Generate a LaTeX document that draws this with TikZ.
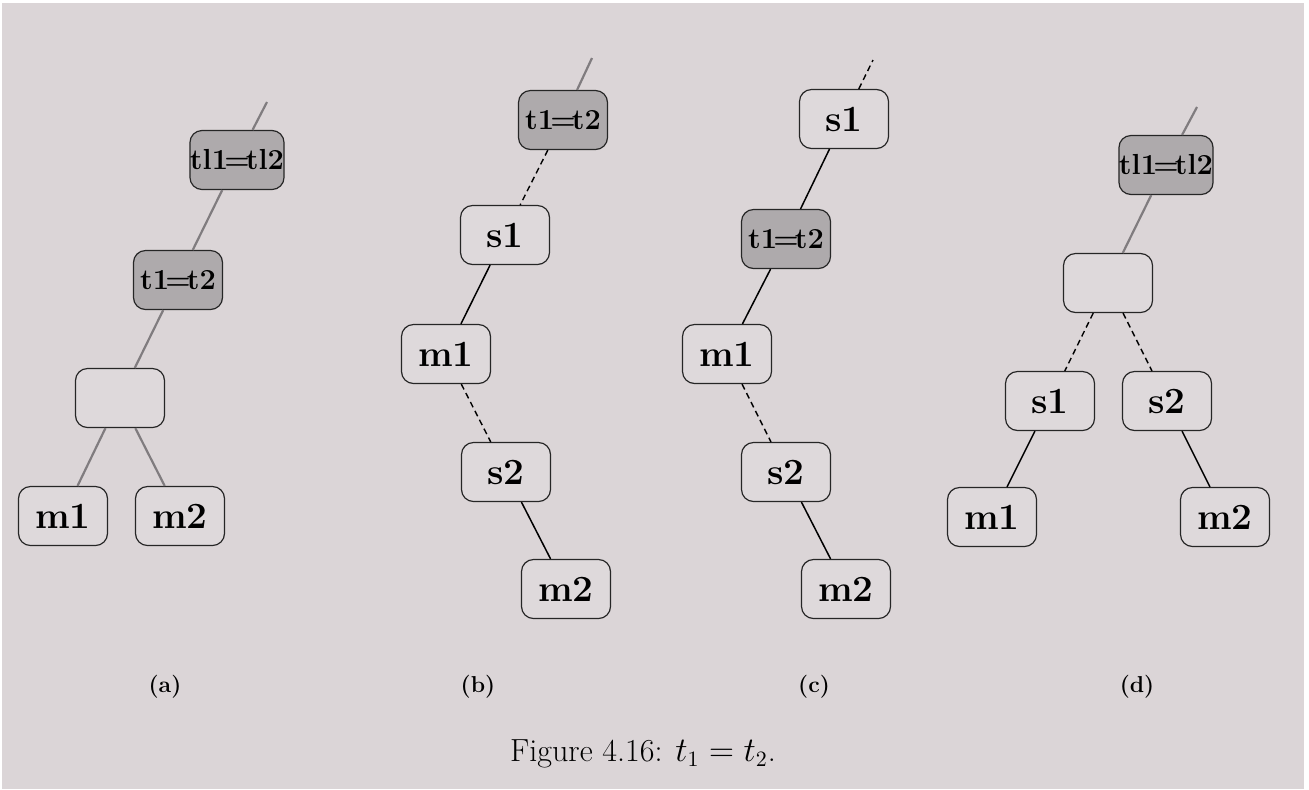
\documentclass[tikz,border=0pt]{standalone}
\usepackage{fontspec}
\definecolor{paper}{RGB}{219,213,215}
\definecolor{boxfill}{RGB}{222,217,219}
\definecolor{greyfill}{RGB}{174,170,172}
\definecolor{greyline}{RGB}{128,124,127}
\begin{document}
\begin{tikzpicture}[x=0.5pt,y=-0.5pt,
  box/.style={draw=black!85, line width=0.6pt, rounded corners=6pt,
    minimum width=44.5pt, minimum height=29.5pt, inner sep=0pt,
    fill=boxfill, font=\fontsize{18.5}{20}\bfseries\selectfont},
  greybox/.style={box, fill=greyfill, font=\fontsize{14.5}{16}\bfseries\selectfont},
  edge/.style={line width=0.75pt, black},
  dashedge/.style={line width=0.7pt, black, dash pattern=on 3pt off 2pt},
  greyedge/.style={line width=1.1pt, greyline},
  sublabel/.style={font=\fontsize{11.5}{13}\bfseries\selectfont},
]
\fill[white] (0,0) rectangle (1309,789);
\fill[paper] (2,3) rectangle (1304,789);
\useasboundingbox (0,0) rectangle (1309,789);
\newcommand{\eqs}{\hspace{-0.13em}=\hspace{-0.13em}}

% ---------- (a)
\node[greybox] (a-tl) at (237,160) {tl1\eqs tl2};
\node[greybox] (a-t) at (178,280) {t1\eqs t2};
\node[box] (a-e) at (120,398) {};
\node[box] (a-m1) at (63,516) {m1};
\node[box] (a-m2) at (180,516) {m2};
\coordinate (a-top) at (267,102);
\draw[greyedge] (a-tl) -- (a-top);
\draw[greyedge] (a-tl) -- (a-t);
\draw[greyedge] (a-t) -- (a-e);
\draw[greyedge] (a-e) -- (a-m1);
\draw[greyedge] (a-e) -- (a-m2);

% ---------- (b)
\node[greybox] (b-t) at (563,120) {t1\eqs t2};
\node[box] (b-s1) at (505,235) {s1};
\node[box] (b-m1) at (446,354) {m1};
\node[box] (b-s2) at (506,472) {s2};
\node[box] (b-m2) at (566,589) {m2};
\coordinate (b-top) at (592,58);
\draw[greyedge] (b-t) -- (b-top);
\draw[dashedge] (b-t) -- (b-s1);
\draw[edge] (b-s1) -- (b-m1);
\draw[dashedge] (b-m1) -- (b-s2);
\draw[edge] (b-s2) -- (b-m2);

% ---------- (c)
\node[box] (c-s1) at (844,119) {s1};
\node[greybox] (c-t) at (786,239) {t1\eqs t2};
\node[box] (c-m1) at (727,354) {m1};
\node[box] (c-s2) at (786,472) {s2};
\node[box] (c-m2) at (846,589) {m2};
\coordinate (c-top) at (873,60);
\draw[dashedge] (c-s1) -- (c-top);
\draw[edge] (c-s1) -- (c-t);
\draw[edge] (c-t) -- (c-m1);
\draw[dashedge] (c-m1) -- (c-s2);
\draw[edge] (c-s2) -- (c-m2);

% ---------- (d)
\node[greybox] (d-tl) at (1166,165) {tl1\eqs tl2};
\node[box] (d-e) at (1108,283) {};
\node[box] (d-s1) at (1050,401) {s1};
\node[box] (d-s2) at (1167,401) {s2};
\node[box] (d-m1) at (992,517) {m1};
\node[box] (d-m2) at (1225,517) {m2};
\coordinate (d-top) at (1197,107);
\draw[greyedge] (d-tl) -- (d-top);
\draw[greyedge] (d-tl) -- (d-e);
\draw[dashedge] (d-e) -- (d-s1);
\draw[dashedge] (d-e) -- (d-s2);
\draw[edge] (d-s1) -- (d-m1);
\draw[edge] (d-s2) -- (d-m2);

% ---------- labels
\node[sublabel] (la) at (165,687) {(a)};
\node[sublabel] (lb) at (478,687) {(b)};
\node[sublabel] (lc) at (814,687) {(c)};
\node[sublabel] (ld) at (1137,687) {(d)};
\node[font=\fontsize{16}{18}\selectfont] (cap) at (643,754) {Figure 4.16: $t_1 = t_2$.};
\end{tikzpicture}
\end{document}
